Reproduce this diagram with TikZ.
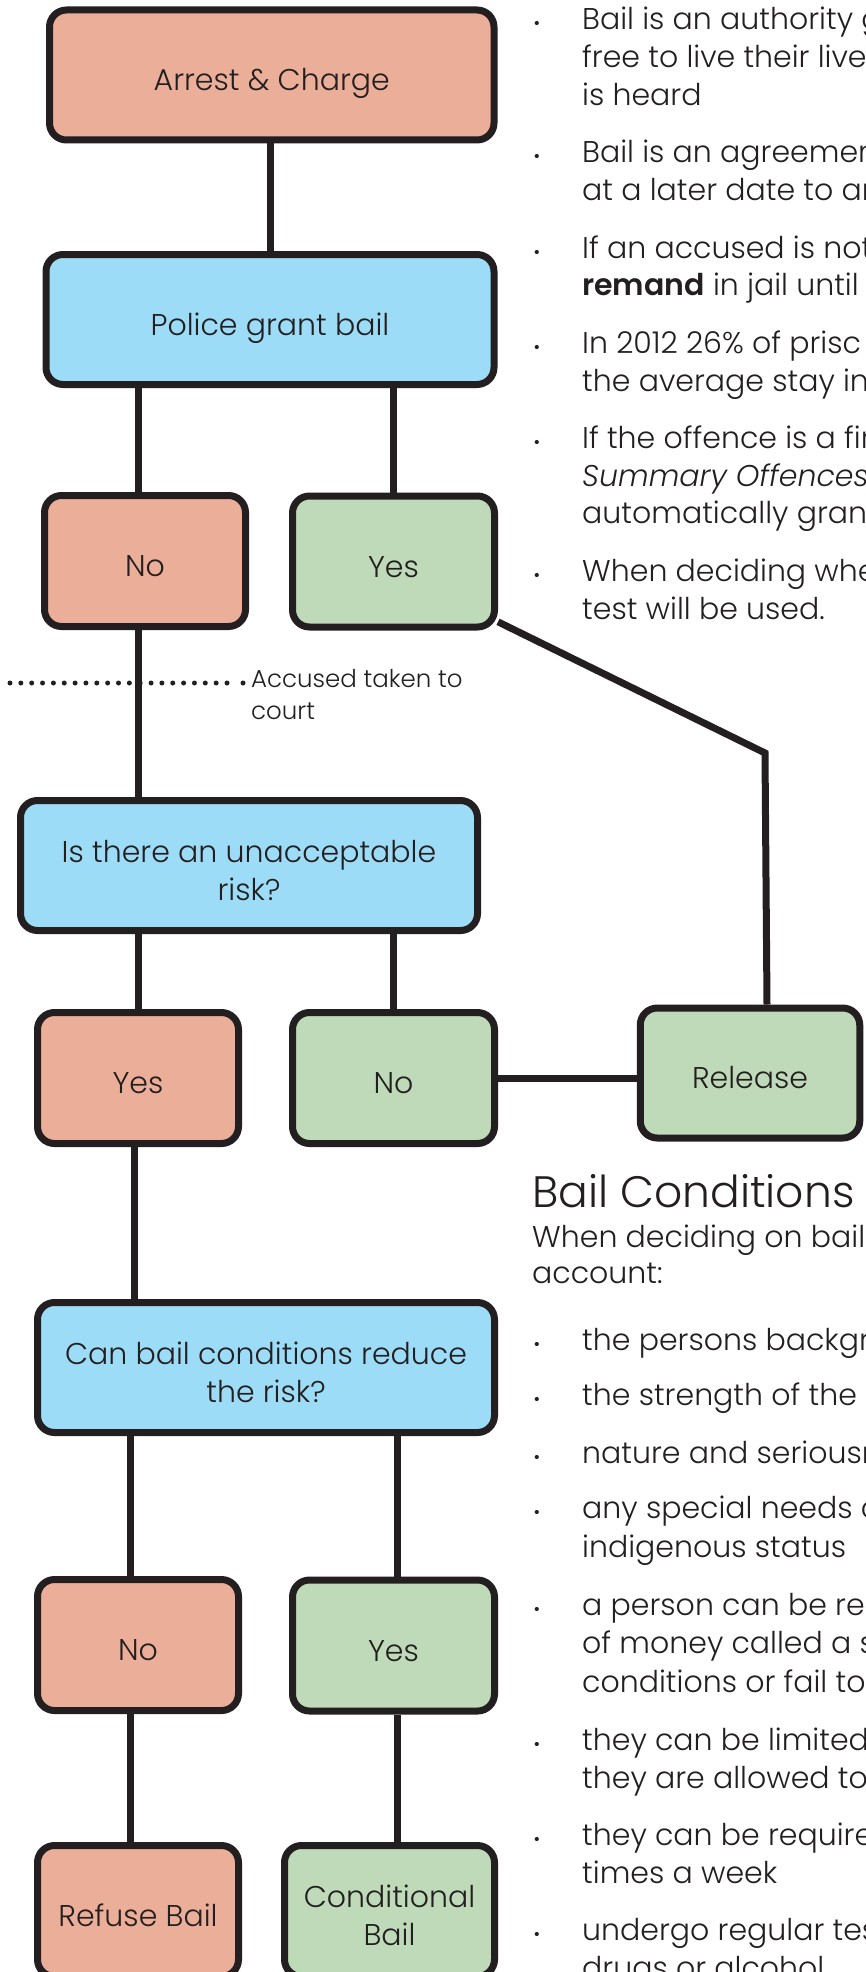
\documentclass[tikz,border=0pt]{standalone}
\usepackage{fontspec}
\setmainfont{Poppins}[UprightFont={* Light}, BoldFont={* SemiBold}, ItalicFont={* Light Italic}]
\definecolor{lineC}{HTML}{231F20}
\definecolor{salmonC}{HTML}{EBAE99}
\definecolor{blueC}{HTML}{9DDCF7}
\definecolor{greenC}{HTML}{BFDAB8}
\newcommand\boxtop{\rule{0pt}{40pt}}
\newcommand\boxbot{\rule[-9pt]{0pt}{9pt}}
\tikzset{
  box/.style={draw=lineC, line width=7pt, rounded corners=17pt, text=lineC, align=center,
    font=\fontsize{30}{38}\selectfont, minimum height=130pt, inner sep=0pt},
  boxS/.style={box, fill=salmonC},
  boxB/.style={box, fill=blueC},
  boxG/.style={box, fill=greenC},
  conn/.style={draw=lineC, line width=7pt},
  dotline/.style={draw=lineC, line width=5pt, line cap=round, dash pattern=on 0pt off 10.85pt},
  body/.style={anchor=base west, inner sep=0pt, text=lineC, font=\fontsize{30}{38}\selectfont},
  bul/.style={anchor=base, inner sep=0pt, text=lineC, font=\fontsize{18}{18}\selectfont},
  head/.style={anchor=base west, inner sep=0pt, text=lineC, font=\fontsize{44}{50}\selectfont},
  note/.style={anchor=north west, inner sep=0pt, text=lineC, align=left, font=\fontsize{24.5}{32}\selectfont},
}
\begin{document}
\begin{tikzpicture}[x=1pt,y=-1pt]
\useasboundingbox (0,0) rectangle (865,1972);
\clip (0,0) rectangle (865,1972);
\fill[white] (0,0) rectangle (865,1972);

% flowchart boxes
\node[boxS, minimum width=444.5pt] (ac) at (271.75,75) {\boxtop Arrest \& Charge\boxbot};
\node[boxB, minimum width=448pt] (pgb) at (270,319.5) {\boxtop Police grant bail\boxbot};
\node[boxS, minimum width=201pt, minimum height=131pt] (no1) at (145,561) {\boxtop No\boxbot};
\node[boxG, minimum width=202pt, minimum height=131pt] (yes1) at (393.5,561.5) {\boxtop Yes\boxbot};
\node[boxB, minimum width=457pt] (risk) at (249,865.5) {\boxtop Is there an unacceptable\\risk?\boxbot};
\node[boxS, minimum width=201pt, minimum height=131pt] (yes2) at (138,1078) {\boxtop Yes\boxbot};
\node[boxG, minimum width=202pt, minimum height=131pt] (no2) at (393.5,1078) {\boxtop No\boxbot};
\node[boxG, minimum width=219.5pt] (rel) at (750,1073) {\boxtop Release\boxbot};
\node[boxB, minimum width=457pt] (can) at (266,1367.5) {\boxtop Can bail conditions reduce\\the risk?\boxbot};
\node[boxS, minimum width=201pt, minimum height=131pt] (no3) at (138,1645) {\boxtop No\boxbot};
\node[boxG, minimum width=202pt, minimum height=131pt] (yes3) at (393.5,1645.5) {\boxtop Yes\boxbot};
\node[boxS, minimum width=201pt, minimum height=131pt] (refuse) at (138,1911) {\boxtop Refuse Bail\boxbot};
\node[boxG, minimum width=210pt, minimum height=131pt] (cond) at (389.5,1911) {\boxtop Conditional\\Bail\boxbot};

% connector columns
\coordinate (cA) at (270.5,0);
\coordinate (cL) at (138,0);
\coordinate (cR) at (393.5,0);
\coordinate (cY) at (134,0);
\coordinate (cL2) at (130.5,0);
\coordinate (cR2) at (397.5,0);
\coordinate (bend) at (765,753);
\coordinate (relTop) at (767,0);

\draw[conn] (ac.south -| cA) -- (pgb.north -| cA);
\draw[conn] (pgb.south -| cL) -- (no1.north -| cL);
\draw[conn] (pgb.south -| cR) -- (yes1.north -| cR);
\draw[conn] (no1.south -| cL) -- (risk.north -| cL);
\draw[conn] (yes1.-30) -- (bend) -- (rel.north -| relTop);
\draw[conn] (risk.south -| cL) -- (yes2.north -| cL);
\draw[conn] (risk.south -| cR) -- (no2.north -| cR);
\draw[conn] (no2.east) -- (no2.east -| rel.west);
\draw[conn] (yes2.south -| cY) -- (can.north -| cY);
\draw[conn] (can.south -| cL2) -- (no3.north -| cL2);
\draw[conn] (can.south -| cR2) -- (yes3.north -| cR2);
\draw[conn] (no3.south -| cL2) -- (refuse.north -| cL2);
\draw[conn] (yes3.south -| cR2) -- (cond.north -| cR2);

% court line
\coordinate (dotA) at (10,683);
\coordinate (dotM) at (227,683);
\coordinate (dotB) at (243,683);
\draw[dotline] (dotA) -- (dotM);
\fill[lineC] (dotB) circle (2.5pt);
\node[note] (acc) at (251,669) {Accused taken to\\court};

% top right notes
\node[bul] (b1) at (537,30) {•};
\node[body] (t1a) at (582,30) {Bail is an authority g};
\node[body] (t1b) at (582,67.7) {free to live their live};
\node[body] (t1c) at (582,105.4) {is heard};
\node[bul] (b2) at (537,162.9) {•};
\node[body] (t2a) at (582,162.9) {Bail is an agreemen};
\node[body] (t2b) at (582,200.6) {at a later date to an};
\node[bul] (b3) at (537,258.1) {•};
\node[body] (t3a) at (582,258.1) {If an accused is not};
\node[body] (t3b) at (582,295.8) {\textbf{remand} in jail until t};
\node[bul] (b4) at (537,353.3) {•};
\node[body] (t4a) at (582,353.3) {In 2012 26\% of prisc};
\node[body] (t4b) at (582,391) {the average stay in j};
\node[bul] (b5) at (537,448.5) {•};
\node[body] (t5a) at (582,448.5) {If the offence is a fir};
\node[body] (t5b) at (582,486.2) {\textit{Summary Offences}};
\node[body] (t5c) at (582,523.9) {automatically grant};
\node[bul] (b6) at (537,581.4) {•};
\node[body] (t6a) at (582,581.4) {When deciding whe};
\node[body] (t6b) at (582,619.1) {test will be used.};

% bail conditions
\node[head] (hd) at (532,1207) {Bail Conditions};
\node[body] (i1) at (532,1247) {When deciding on bail};
\node[body] (i2) at (532,1283) {account:};
\node[bul] (c1) at (537,1350) {•};
\node[body] (c1a) at (582,1350) {the persons backgr};
\node[bul] (c2) at (537,1405) {•};
\node[body] (c2a) at (582,1405) {the strength of the};
\node[bul] (c3) at (537,1463) {•};
\node[body] (c3a) at (582,1463) {nature and seriousr};
\node[bul] (c4) at (537,1518) {•};
\node[body] (c4a) at (582,1518) {any special needs c};
\node[body] (c4b) at (582,1557) {indigenous status};
\node[bul] (c5) at (537,1615) {•};
\node[body] (c5a) at (582,1615) {a person can be rec};
\node[body] (c5b) at (582,1653) {of money called a s};
\node[body] (c5c) at (582,1692) {conditions or fail to};
\node[bul] (c6) at (537,1750) {•};
\node[body] (c6a) at (582,1750) {they can be limited};
\node[body] (c6b) at (582,1788) {they are allowed to};
\node[bul] (c7) at (537,1845) {•};
\node[body] (c7a) at (582,1845) {they can be require};
\node[body] (c7b) at (582,1883) {times a week};
\node[bul] (c8) at (537,1940) {•};
\node[body] (c8a) at (582,1940) {undergo regular tes};
\node[body] (c8b) at (582,1978) {drugs or alcohol};
\end{tikzpicture}
\end{document}
